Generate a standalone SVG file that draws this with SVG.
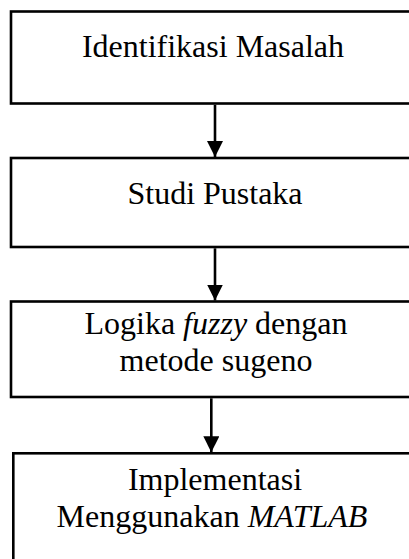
<svg xmlns="http://www.w3.org/2000/svg" width="409" height="559" viewBox="0 0 409 559">
<style>
.box{fill:#fff;stroke:#000;stroke-width:2.6}
.t{font-family:"Liberation Serif","Times New Roman",serif;font-size:32px;fill:#000;text-anchor:middle}
.i{font-style:italic}
.c{stroke:#000;stroke-width:2.6;fill:none}
</style>
<defs>
<marker id="ah" markerUnits="userSpaceOnUse" markerWidth="16" markerHeight="16" refX="16" refY="8" orient="auto" viewBox="0 0 16 16">
<path d="M0,0 L16,8 L0,16 Z" fill="#000"/>
</marker>
</defs>
<rect width="409" height="559" fill="#fff"/>
<g id="n1">
<rect class="box" x="11" y="11.5" width="420" height="92"/>
<text class="t" x="213" y="57">Identifikasi Masalah</text>
</g>
<g id="n2">
<rect class="box" x="11" y="158" width="420" height="89"/>
<text class="t" x="215" y="204">Studi Pustaka</text>
</g>
<g id="n3">
<rect class="box" x="11" y="301.5" width="420" height="95.5"/>
<text class="t" x="216" y="334">Logika <tspan class="i">fuzzy</tspan> dengan</text>
<text class="t" x="216" y="371">metode sugeno</text>
</g>
<g id="n4">
<rect class="box" x="13.3" y="453.3" width="420" height="120"/>
<text class="t" x="215" y="490">Implementasi</text>
<text class="t" x="212" y="527">Menggunakan <tspan class="i">MATLAB</tspan></text>
</g>
<g id="connectors">
<line class="c" x1="215" y1="104.8" x2="215" y2="157" marker-end="url(#ah)"/>
<line class="c" x1="215" y1="248.3" x2="215" y2="300.5" marker-end="url(#ah)"/>
<line class="c" x1="211.3" y1="398.3" x2="211.3" y2="452.3" marker-end="url(#ah)"/>
</g>
</svg>
